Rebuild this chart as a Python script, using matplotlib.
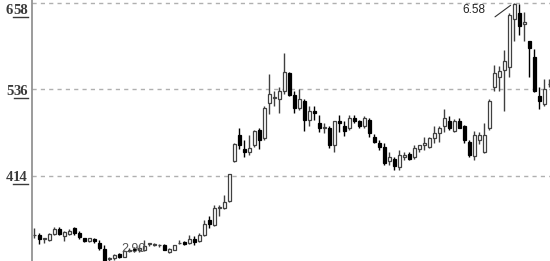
import matplotlib
matplotlib.use("Agg")
import matplotlib.pyplot as plt

# ---- data (price x 100) ----
opens = [330, 330, 325, 323, 332, 339, 329, 332, 340, 333, 326, 322, 325, 320, 311, 297,
         298, 304, 300, 308, 311, 309, 310, 318, 317, 316, 316, 306, 310, 319, 321, 319,
         325, 322, 331, 352, 345, 369, 369, 379, 435, 471, 452, 447, 457, 479, 467, 517,
         524, 523, 533, 559, 528, 510, 520, 493, 505, 489, 482, 482, 458, 491, 485, 481,
         496, 492, 485, 493, 469, 461, 455, 435, 438, 427, 440, 445, 441, 452, 457, 455,
         467, 474, 484, 492, 478, 491, 485, 462, 442, 465, 447, 481, 539, 554, 563, 567,
         635, 644, 628, 604, 581, 526, 516, 543]
highs = [340, 333, 327, 334, 342, 342, 336, 339, 342, 336, 327, 327, 327, 323, 316, 300,
         304, 305, 309, 313, 314, 316, 323, 320, 320, 318, 318, 312, 317, 323, 322, 330,
         329, 333, 352, 357, 373, 373, 387, 417, 461, 482, 464, 471, 479, 482, 512, 557,
         533, 539, 587, 560, 533, 536, 522, 513, 513, 500, 489, 484, 492, 500, 491, 500,
         500, 493, 498, 495, 473, 464, 461, 448, 441, 450, 447, 448, 457, 458, 469, 469,
         484, 485, 509, 499, 494, 496, 486, 464, 478, 476, 489, 522, 571, 569, 591, 644,
         658, 656, 645, 604, 593, 539, 550, 550]
lows = [326, 318, 319, 322, 331, 331, 322, 331, 331, 325, 321, 321, 319, 309, 291, 290,
        296, 298, 299, 306, 307, 307, 308, 315, 315, 314, 309, 305, 309, 318, 316, 318,
        317, 321, 329, 341, 343, 358, 367, 377, 434, 452, 440, 444, 455, 452, 465, 501,
        512, 503, 529, 526, 503, 507, 478, 485, 493, 476, 475, 454, 447, 476, 470, 479,
        489, 482, 481, 469, 461, 451, 430, 430, 422, 422, 437, 437, 438, 447, 450, 453,
        461, 462, 476, 479, 476, 481, 461, 441, 436, 459, 446, 479, 533, 533, 505, 553,
        604, 612, 604, 553, 532, 508, 513, 539]
closes = [330, 325, 326, 332, 339, 332, 335, 336, 333, 328, 322, 326, 322, 312, 292, 298,
          303, 299, 308, 310, 309, 312, 315, 319, 318, 317, 310, 311, 316, 320, 318, 325,
          321, 330, 346, 346, 369, 370, 377, 417, 459, 457, 447, 454, 478, 465, 510, 529,
          525, 533, 561, 528, 510, 522, 493, 506, 502, 482, 483, 457, 491, 488, 478, 496,
          492, 485, 496, 475, 462, 455, 432, 440, 428, 444, 444, 438, 454, 457, 461, 467,
          474, 482, 495, 481, 492, 482, 464, 444, 471, 471, 472, 520, 559, 562, 576, 641,
          657, 625, 631, 594, 533, 519, 537, 544]

ytick_vals = [414, 536, 658]
ytick_labels = ["414", "536", "658"]
high_label = "6.58"
low_label = "2.90"

# ---- figure ----
W, H = 550, 261
fig = plt.figure(figsize=(W / 100, H / 100), dpi=100)
ax = fig.add_axes([32 / W, 0, 518 / W, 1])
ax.set_xlim(-0.4, 103.2)
ax.set_ylim(294, 662)

n = len(opens)
for i in range(n):
    o, h, l, c = opens[i], highs[i], lows[i], closes[i]
    up = c >= o
    col = "#404040" if up else "#000000"
    ax.vlines(i, l, h, color=col, lw=1.0, zorder=1)
    bottom = min(o, c)
    height = max(abs(c - o), 0.6)
    ax.bar(i, height, bottom=bottom, width=0.6,
           facecolor="white" if up else "black",
           edgecolor=col, linewidth=0.9, zorder=2)

# grid
for v in ytick_vals:
    ax.axhline(v, color="#b0b0b0", lw=1.0, linestyle=(0, (3, 3)), zorder=0)

for s in ["top", "right", "bottom"]:
    ax.spines[s].set_visible(False)
ax.spines["left"].set_color("#8a8a8a")
ax.spines["left"].set_linewidth(1.2)
ax.set_xticks([])
ax.set_yticks([])

# y labels with underlined last two digits
fig.canvas.draw()
renderer = fig.canvas.get_renderer()
lab_kw = dict(family="Liberation Serif", fontsize=10.5, color="#3a3a3a", weight="bold")
for v, lab in zip(ytick_vals, ytick_labels):
    py = H - ax.transData.transform((0, v))[1]
    cy = max(py + 2, 10)
    t2 = fig.text(28 / W, 1 - cy / H, lab[-2:], ha="right", va="center", **lab_kw)
    bb = t2.get_window_extent(renderer)
    fig.text(bb.x0 / W, 1 - cy / H, lab[:-2], ha="right", va="center", **lab_kw)
    uy = 1 - (cy + 6.5) / H
    fig.add_artist(plt.Line2D([bb.x0 / W, bb.x1 / W], [uy, uy],
                              transform=fig.transFigure, color="#3a3a3a", lw=1.0))

# high / low annotations
imax = highs.index(max(highs))
imin = lows.index(min(lows))
ax.annotate("", xy=(imax, highs[imax]), xytext=(-19, -14), textcoords="offset pixels",
            arrowprops=dict(arrowstyle="-", lw=0.8, color="#333333", shrinkA=0, shrinkB=3),
            annotation_clip=False)
ax.annotate(high_label, xy=(imax, highs[imax]), xytext=(-29, -7), textcoords="offset pixels",
            ha="right", va="center", family="Liberation Sans", fontsize=8.5, color="#222222",
            annotation_clip=False)
ax.annotate(low_label, xy=(imin, lows[imin]), xytext=(12, 15), textcoords="offset pixels",
            ha="left", va="center", family="Liberation Sans", fontsize=9, color="#555555",
            annotation_clip=False, zorder=3)

fig.savefig("out.png", dpi=100)
